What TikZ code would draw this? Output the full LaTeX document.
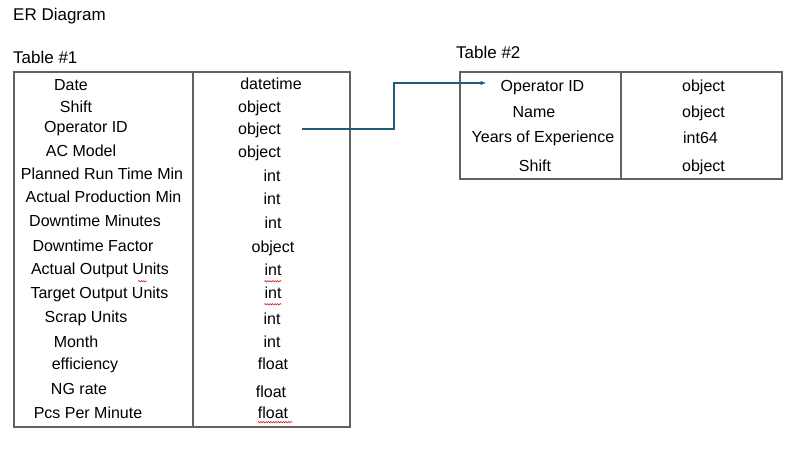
\documentclass[tikz,border=0pt]{standalone}
\usepackage{fontspec}
\setmainfont{Liberation Sans}
\usetikzlibrary{arrows.meta,decorations.pathmorphing}
\definecolor{fkblue}{RGB}{31,92,122}

\begin{document}
\begin{tikzpicture}[
  x=1pt, y=-1pt,
  font=\fontsize{16}{19}\selectfont,
  title/.style={anchor=base west, inner sep=0pt, font=\fontsize{17}{20}\selectfont},
  cell/.style={anchor=base, inner sep=0pt, text height=11pt, text depth=3pt},
  frame/.style={draw=black!62, line width=1.2pt},
  fk/.style={-{Latex[length=6pt,width=4.5pt]}, draw=fkblue, line width=1.4pt},
  squiggle/.style={draw=red!85!black, line width=0.5pt, decorate,
    decoration={snake, segment length=2.5pt, amplitude=0.7pt}}
]
\useasboundingbox (0,0) rectangle (809,462);

% titles
\node[title] (title) at (13,21) {ER Diagram};
\node[title] (tab1) at (13,64) {Table \#1};
\node[title] (tab2) at (456,59) {Table \#2};

% table 1
\draw[frame] (14,72) rectangle (350,427);
\draw[frame] (193,72) -- (193,427);
\foreach \i/\x/\y/\txt in {1/71/91/Date, 2/76/113/Shift, 3/86/133/Operator ID,
  4/81/157/AC Model, 5/102/180/Planned Run Time Min, 6/103.5/203/Actual Production Min,
  7/95/227/Downtime Minutes, 8/93/252/Downtime Factor, 9/100/275/Actual Output Units,
  10/99.5/299/Target Output Units, 11/86/323/Scrap Units, 12/76/348/Month,
  13/85/370/efficiency, 14/79/395/NG rate, 15/88/418/Pcs Per Minute}
  \node[cell] (t1at\i) at (\x,\y) {\txt};
\foreach \i/\x/\y/\txt in {1/271/90/datetime, 2/259.5/113/object, 3/259.5/135/object,
  4/259.5/158/object, 5/272/182/int, 6/272/205/int, 7/273/229/int, 8/273/253/object,
  9/273/276/int, 10/273/299/int, 11/272/325/int, 12/272/348/int, 13/273/370/float,
  14/271/397/float, 15/273/418/float}
  \node[cell] (t1ty\i) at (\x,\y) {\txt};

% table 2
\draw[frame] (460,72) rectangle (782,179);
\draw[frame] (621,72) -- (621,179);
\foreach \i/\x/\y/\txt in {1/542.5/92/Operator ID, 2/534/118/Name,
  3/543/143/Years of Experience, 4/535/172/Shift}
  \node[cell] (t2at\i) at (\x,\y) {\txt};
\foreach \i/\x/\y/\txt in {1/703.5/92/object, 2/703.5/118/object,
  3/700.5/144/int64, 4/703.5/172/object}
  \node[cell] (t2ty\i) at (\x,\y) {\txt};

% spelling marks
\draw[squiggle] ([xshift=-31pt,yshift=-3pt]t1at9.south east) -- ++(9,0);
\draw[squiggle] ([yshift=-2pt]t1ty9.south west) -- ([yshift=-2pt]t1ty9.south east);
\draw[squiggle] ([yshift=-2pt]t1ty10.south west) -- ([yshift=-2pt]t1ty10.south east);
\draw[squiggle] ([yshift=-1pt]t1ty15.south west) -- ([xshift=4pt,yshift=-1pt]t1ty15.south east);

% foreign key
\draw[fk] ([xshift=21pt,yshift=2pt]t1ty3.east) -- ++(92,0)
  |- ([xshift=-14pt,yshift=5pt]t2at1.west);

\end{tikzpicture}
\end{document}
